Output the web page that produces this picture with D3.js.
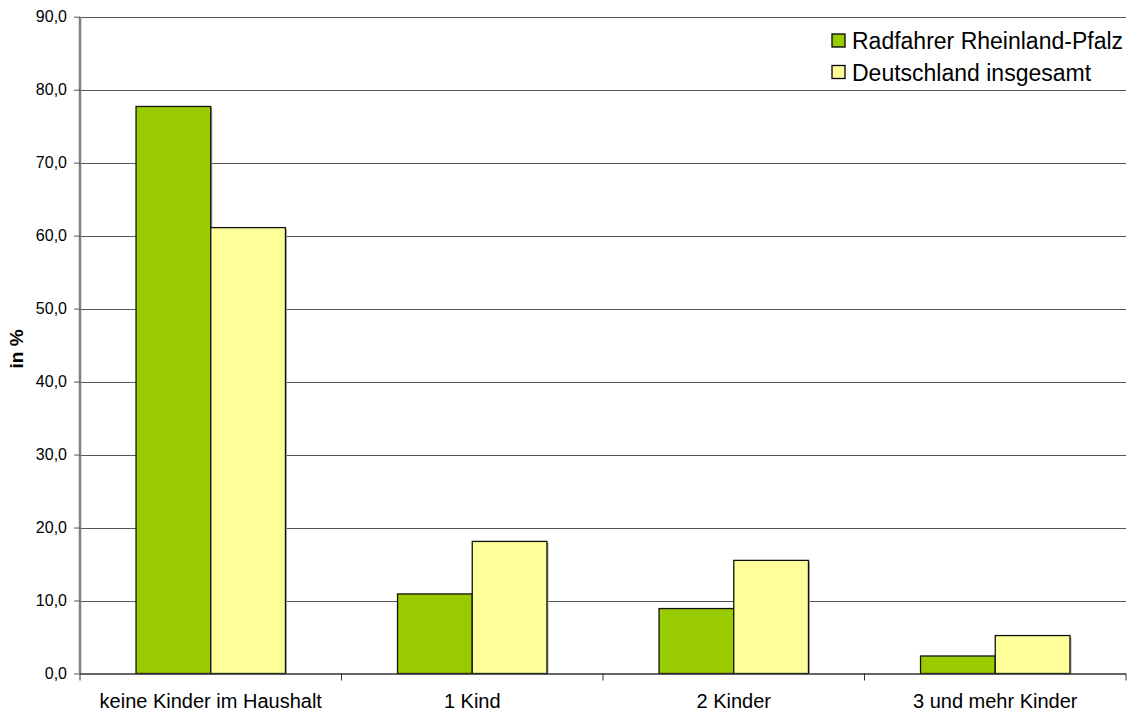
<!DOCTYPE html>
<html>
<head>
<meta charset="utf-8">
<script src="https://cdn.jsdelivr.net/npm/d3@7"></script>
<style>
  html, body { margin: 0; padding: 0; background: #fff; }
  svg { display: block; font-family: "Liberation Sans", Arial, sans-serif; }
</style>
</head>
<body>
<svg id="chart" width="1130" height="713"></svg>
<script>
const categories = ["keine Kinder im Haushalt", "1 Kind", "2 Kinder", "3 und mehr Kinder"];
const seriesNames = ["Radfahrer Rheinland-Pfalz", "Deutschland insgesamt"];
const rlpValues = [77.7, 10.9, 8.9, 2.4];
const deValues = [61.1, 18.1, 15.5, 5.2];
const yTicks = [0, 10, 20, 30, 40, 50, 60, 70, 80, 90];
const colors = ["#99CC00", "#FFFF99"];

const svg = d3.select("#chart");
const pLeft = 80, pRight = 1126, pTop = 16.7, pBottom = 673.5;

const x = d3.scaleBand().domain(categories).range([pLeft, pRight]).padding(0);
const bw = x.bandwidth() / 3.5;
const x1 = d3.scaleBand().domain([0, 1]).range([0, 2 * bw]).padding(0);
const y = d3.scaleLinear().domain([0, 90]).range([pBottom, pTop]);

const fmt = d => d.toFixed(1).replace(".", ",");

// gridlines
svg.append("g").selectAll("line").data(yTicks.filter(d => d > 0)).join("line")
  .attr("x1", pLeft).attr("x2", pRight)
  .attr("y1", d => Math.round(y(d)) + 0.5).attr("y2", d => Math.round(y(d)) + 0.5)
  .attr("stroke", "#555").attr("stroke-width", 1);

// bars
const data = categories.map((c, i) => ({ c, vals: [rlpValues[i], deValues[i]] }));
const groups = svg.append("g").selectAll("g").data(data).join("g")
  .attr("transform", d => `translate(${x(d.c) + x.bandwidth() / 2 - bw},0)`);
groups.selectAll("rect.shadow").data(d => d.vals.map((v, k) => ({ v, k }))).join("rect")
  .attr("class", "shadow")
  .attr("x", d => x1(d.k) + 1.5).attr("y", d => y(d.v) + 1.5)
  .attr("width", x1.bandwidth()).attr("height", d => pBottom - y(d.v) - 1.5)
  .attr("fill", "#aaa");
groups.selectAll("rect.bar").data(d => d.vals.map((v, k) => ({ v, k }))).join("rect")
  .attr("class", "bar")
  .attr("x", d => x1(d.k)).attr("y", d => y(d.v))
  .attr("width", x1.bandwidth()).attr("height", d => pBottom - y(d.v))
  .attr("fill", d => colors[d.k]).attr("stroke", "#111").attr("stroke-width", 1.3);

// y axis
const yAxis = d3.axisLeft(y).tickValues(yTicks).tickFormat(fmt).tickSize(6).tickPadding(7);
const gy = svg.append("g").attr("transform", `translate(${pLeft},0)`).call(yAxis);
gy.select(".domain").attr("stroke", "#808080").attr("stroke-width", 2.5).attr("d", `M0,${pTop}V${pBottom}`);
gy.selectAll(".tick line").attr("stroke", "#555");
gy.selectAll("text").attr("font-size", 16).attr("fill", "#000")
  .attr("font-family", "'Liberation Sans', Arial, sans-serif");

// x axis
const xAxis = d3.axisBottom(x).tickSize(0).tickPadding(0);
const gx = svg.append("g").attr("transform", `translate(0,${pBottom})`).call(xAxis);
gx.select(".domain").attr("stroke", "#333").attr("stroke-width", 1.5).attr("d", `M${pLeft},0.5H${pRight}`);
gx.selectAll("text").attr("font-size", 20).attr("fill", "#000").attr("dy", null).attr("y", 34)
  .attr("font-family", "'Liberation Sans', Arial, sans-serif");
// category separator ticks
svg.append("g").selectAll("line").data(categories.map(c => x(c)).concat([pRight])).join("line")
  .attr("x1", d => d).attr("x2", d => d)
  .attr("y1", pBottom).attr("y2", pBottom + 7)
  .attr("stroke", "#333").attr("stroke-width", 1);

// y label
svg.append("text").attr("transform", `translate(23,349) rotate(-90)`)
  .attr("text-anchor", "middle").attr("font-size", 19).attr("font-weight", "bold")
  .text("in %");

// legend
const lg = svg.append("g").selectAll("g").data(seriesNames).join("g")
  .attr("transform", (d, i) => `translate(832,${34 + i * 31.5})`);
lg.append("rect").attr("width", 13).attr("height", 13)
  .attr("fill", (d, i) => colors[i]).attr("stroke", "#000").attr("stroke-width", 1.3);
lg.append("text").attr("x", 20).attr("y", 7).attr("dy", "0.36em")
  .attr("font-size", 23).text(d => d);
</script>
</body>
</html>
